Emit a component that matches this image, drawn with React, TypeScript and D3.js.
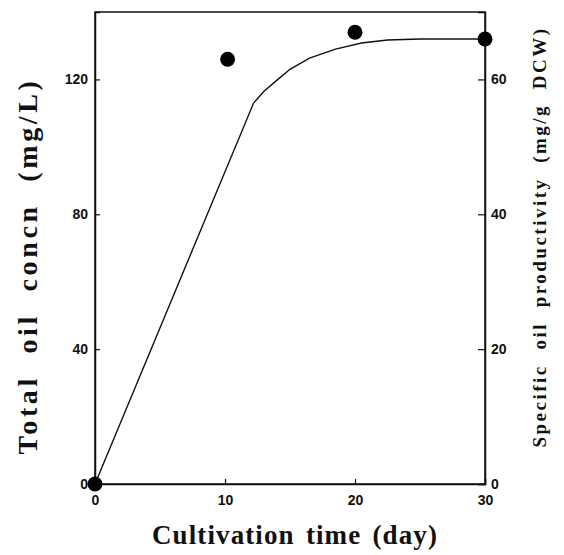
import React, { useEffect, useRef } from "react";
import * as d3 from "d3";

// total oil concentration curve (left axis, mg/L)
const curveDays = [0, 12.2, 13, 14, 15, 16.5, 18.5, 20.5, 22.5, 25, 30];
const curveConc = [0, 113, 116.5, 119.8, 123, 126.3, 129, 130.8, 131.7, 132, 132];

// specific oil productivity points (right axis, mg/g DCW)
const pointDays = [0, 10.2, 20, 30];
const pointProd = [0, 63, 67, 66];

const xTicks = [0, 10, 20, 30];
const leftTicks = [0, 40, 80, 120];
const rightTicks = [0, 20, 40, 60];

const App = () => {
  const ref = useRef<SVGSVGElement>(null);
  const width = 564;
  const height = 555;
  const left = 95;
  const right = 485;
  const top = 12;
  const bottom = 484;

  useEffect(() => {
    const svg = d3.select(ref.current);
    svg.selectAll("*").remove();

    const x = d3.scaleLinear().domain([0, 30]).range([left, right]);
    const yL = d3.scaleLinear().domain([0, 140]).range([bottom, top]);
    const yR = d3.scaleLinear().domain([0, 70]).range([bottom, top]);

    const tickFont = "'Liberation Sans', Arial, sans-serif";
    const titleFont = "'Liberation Serif', 'Times New Roman', serif";

    // frame
    svg.append("rect")
      .attr("x", left).attr("y", top)
      .attr("width", right - left).attr("height", bottom - top)
      .attr("fill", "none").attr("stroke", "#111").attr("stroke-width", 1.5);

    const xAxis = svg.append("g")
      .attr("transform", "translate(0," + bottom + ")")
      .call(d3.axisBottom(x).tickValues(xTicks).tickSize(-5).tickPadding(11));
    const leftAxis = svg.append("g")
      .attr("transform", "translate(" + left + ",0)")
      .call(d3.axisLeft(yL).tickValues(leftTicks).tickSize(-5).tickPadding(7));
    const rightAxis = svg.append("g")
      .attr("transform", "translate(" + right + ",0)")
      .call(d3.axisRight(yR).tickValues(rightTicks).tickSize(-7).tickPadding(6));

    [xAxis, leftAxis, rightAxis].forEach((g) => {
      g.select(".domain").attr("stroke", "#111").attr("stroke-width", 1.5);
      g.selectAll(".tick line").attr("stroke", "#111").attr("stroke-width", 1.2);
      g.selectAll(".tick text")
        .attr("font-family", tickFont)
        .attr("font-size", 14)
        .attr("font-weight", "bold")
        .attr("fill", "#111");
    });

    const line = d3.line<number>()
      .x((d, i) => x(curveDays[i]))
      .y((d) => yL(d));

    svg.append("path")
      .datum(curveConc)
      .attr("fill", "none")
      .attr("stroke", "#111")
      .attr("stroke-width", 1.4)
      .attr("d", line);

    svg.selectAll(".pt")
      .data(pointProd)
      .enter()
      .append("circle")
      .attr("cx", (d, i) => x(pointDays[i]))
      .attr("cy", (d) => yR(d))
      .attr("r", 7.5)
      .attr("fill", "#000");

    // titles: spread letters (and a bit more between words) to fill each span
    const title = (label: string, size: number, span: number, transform: string) => {
      const t = svg.append("text")
        .attr("transform", transform)
        .attr("text-anchor", "middle")
        .attr("font-family", titleFont)
        .attr("font-size", size).attr("font-weight", "bold")
        .attr("fill", "#111")
        .text(label);
      const node = t.node() as SVGTextElement;
      const natural = node.getComputedTextLength();
      const gaps = label.split(" ").length - 1;
      const ls = Math.max(0, (span - natural) / (label.length + 3 * gaps));
      t.attr("letter-spacing", ls).attr("word-spacing", 3 * ls);
    };

    title("Cultivation time (day)", 27, 286, "translate(295,544)");
    title("Total oil concn (mg/L)", 28, 377, "translate(37,266) rotate(-90)");
    title("Specific oil productivity (mg/g DCW)", 19, 421, "translate(546,237) rotate(-90)");
  }, []);

  return (
    <svg
      ref={ref}
      width={width}
      height={height}
      style={{ position: "absolute", left: 0, top: 0, background: "#fff" }}
    />
  );
};

export default App;
